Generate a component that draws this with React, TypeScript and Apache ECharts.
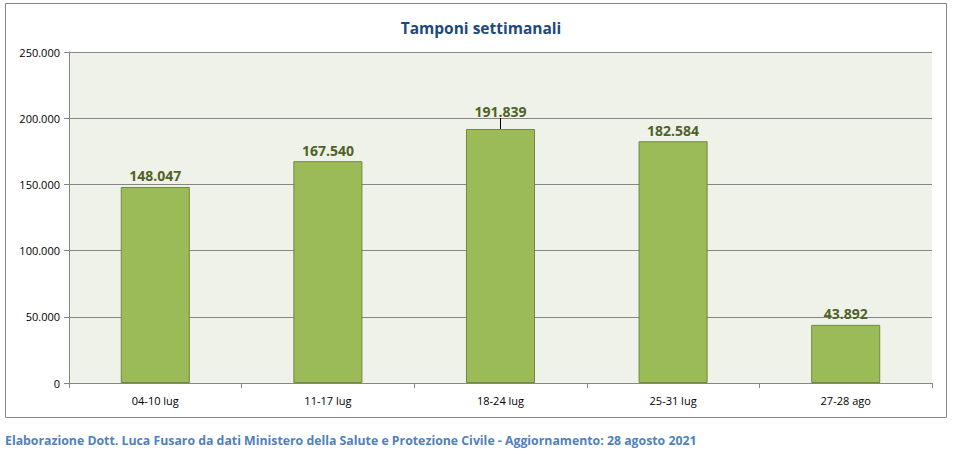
import React, { useEffect, useRef } from "react";
import * as echarts from "echarts";

const categories = ["04-10 lug", "11-17 lug", "18-24 lug", "25-31 lug", "27-28 ago"];
const tamponi = [148047, 167540, 191839, 182584, 43892];
const yTicks = { min: 0, max: 250000, interval: 50000 };

const fmt = (v: number) => {
  if (v === 0) return "0";
  return String(Math.round(v)).replace(/\B(?=(\d{3})+(?!\d))/g, ".");
};

export default function App() {
  const ref = useRef<HTMLDivElement>(null);
  useEffect(() => {
    const chart = echarts.init(ref.current!, null, { renderer: "svg" });
    const font = "'Open Sans', 'Liberation Sans', sans-serif";
    chart.setOption({
      animation: false,
      backgroundColor: "#ffffff",
      textStyle: { fontFamily: font },
      title: {
        text: "Tamponi settimanali",
        left: 476,
        textAlign: "center",
        top: 15,
        textStyle: { color: "#1f497d", fontSize: 15.5, fontWeight: "bold", fontFamily: font },
      },
      graphic: [
        {
          type: "rect",
          shape: { x: 5.5, y: 3.5, width: 941, height: 414 },
          style: { fill: "none", stroke: "#868686", lineWidth: 1 },
          z: 0,
        },
        {
          type: "text",
          left: 5,
          top: 434,
          style: {
            text: "Elaborazione Dott. Luca Fusaro da dati Ministero della Salute e Protezione Civile - Aggiornamento: 28 agosto 2021",
            fill: "#4f81bd",
            font: "bold 12.3px " + font,
          },
        },
      ],
      grid: {
        left: 69,
        right: 25,
        top: 52,
        bottom: 71,
        show: true,
        backgroundColor: "#eff2e8",
        borderWidth: 0,
      },
      xAxis: {
        type: "category",
        data: categories,
        axisLine: { lineStyle: { color: "#868686" } },
        axisTick: { show: true, alignWithLabel: false, length: 5, lineStyle: { color: "#868686" } },
        axisLabel: { color: "#000", fontSize: 11, margin: 12, fontFamily: font },
      },
      yAxis: {
        type: "value",
        min: yTicks.min,
        max: yTicks.max,
        interval: yTicks.interval,
        axisLine: { show: true, lineStyle: { color: "#868686" } },
        axisTick: { show: true, length: 5, lineStyle: { color: "#868686" } },
        splitLine: { lineStyle: { color: "#868686" } },
        axisLabel: { color: "#000", fontSize: 11, margin: 9, formatter: (v: number) => fmt(v), fontFamily: font },
      },
      series: [
        {
          type: "bar",
          data: tamponi.map((v, i) =>
            i === 2 ? { value: v, labelLine: { show: true } } : { value: v }
          ),
          barWidth: "40%",
          itemStyle: { color: "#9bbb59", borderColor: "#71893f", borderWidth: 1 },
          label: {
            show: true,
            position: "top",
            distance: 4,
            color: "#4f6228",
            fontSize: 14,
            fontWeight: "bold",
            fontFamily: font,
            formatter: (p: any) => fmt(p.value),
          },
          labelLayout: (p: any) => (p.dataIndex === 2 ? { dy: -7 } : {}),
          labelLine: { show: false, lineStyle: { color: "#000", width: 1 } },
        },
      ],
    });
    return () => chart.dispose();
  }, []);
  return <div ref={ref} style={{ position: "fixed", left: 0, top: 0, width: 957, height: 454 }} />;
}
